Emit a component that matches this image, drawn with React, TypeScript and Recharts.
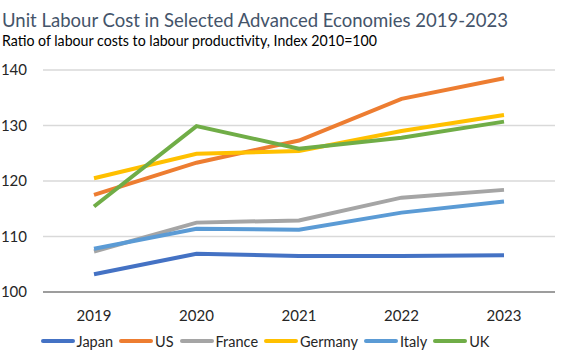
import React from "react";
import {
  LineChart,
  Line,
  XAxis,
  YAxis,
  CartesianGrid,
  Legend,
} from "recharts";

// values
const years = ["2019", "2020", "2021", "2022", "2023"];
const japan = [103.2, 106.9, 106.5, 106.5, 106.6];
const us = [117.5, 123.3, 127.3, 134.8, 138.5];
const france = [107.3, 112.5, 112.9, 117.0, 118.4];
const germany = [120.5, 124.9, 125.4, 129.0, 131.9];
const italy = [107.8, 111.4, 111.2, 114.3, 116.3];
const uk = [115.4, 129.9, 125.8, 127.8, 130.7];
const yTicks = [100, 110, 120, 130, 140];

const series = [
  { key: "Japan", values: japan, color: "#4472C4" },
  { key: "US", values: us, color: "#ED7D31" },
  { key: "France", values: france, color: "#A5A5A5" },
  { key: "Germany", values: germany, color: "#FFC000" },
  { key: "Italy", values: italy, color: "#5B9BD5" },
  { key: "UK", values: uk, color: "#70AD47" },
];

const data = years.map((year, i) => {
  const row: Record<string, string | number> = { year };
  series.forEach((s) => {
    row[s.key] = s.values[i];
  });
  return row;
});

const FONT = "Lato, 'Noto Sans', sans-serif";

const LegendContent = () => (
  <div
    style={{
      display: "flex",
      justifyContent: "center",
      alignItems: "center",
      fontFamily: FONT,
      fontSize: 14.5,
      color: "#262626",
      height: 20,
    }}
  >
    {series.map((s, i) => (
      <div
        key={s.key}
        style={{
          display: "flex",
          alignItems: "center",
          marginRight: i === series.length - 1 ? 0 : 6,
        }}
      >
        <span
          style={{
            display: "inline-block",
            width: 34,
            height: 4,
            borderRadius: 2,
            background: s.color,
            marginRight: 2,
          }}
        />
        <span>{s.key}</span>
      </div>
    ))}
  </div>
);

const App = () => {
  return (
    <div
      style={{
        position: "absolute",
        left: 0,
        top: 0,
        width: 570,
        height: 357,
        background: "#fff",
      }}
    >
      <LineChart
        width={570}
        height={357}
        data={data}
        margin={{ top: 70, right: 15, left: 0, bottom: 0 }}
      >
        <CartesianGrid vertical={false} stroke="#D9D9D9" strokeWidth={1.5} />
        <XAxis
          dataKey="year"
          height={45}
          padding={{ left: 51, right: 51 }}
          tickLine={false}
          axisLine={{ stroke: "#868686", strokeWidth: 1.5 }}
          tickMargin={12}
          tick={{ fill: "#262626", fontSize: 15, fontFamily: FONT }}
        />
        <YAxis
          width={43}
          domain={[100, 140]}
          ticks={yTicks}
          tickLine={false}
          axisLine={false}
          tickMargin={10}
          tick={{ fill: "#262626", fontSize: 15, fontFamily: FONT }}
        />
        <Legend
          content={<LegendContent />}
          wrapperStyle={{ top: 331, left: 0, width: 530, height: 20 }}
        />
        {series.map((s) => (
          <Line
            key={s.key}
            dataKey={s.key}
            stroke={s.color}
            strokeWidth={4}
            dot={false}
            type="linear"
            isAnimationActive={false}
          />
        ))}
      </LineChart>
      <svg
        width={570}
        height={60}
        style={{ position: "absolute", left: 0, top: 0, pointerEvents: "none" }}
      >
        <text
          x={2}
          y={27}
          fontFamily={FONT}
          fontSize={20}
          fill="#44546A"
          textLength={506}
          lengthAdjust="spacingAndGlyphs"
        >
          Unit Labour Cost in Selected Advanced Economies 2019-2023
        </text>
        <text
          x={2}
          y={46}
          fontFamily={FONT}
          fontSize={15}
          fill="#000"
          textLength={375}
          lengthAdjust="spacingAndGlyphs"
        >
          Ratio of labour costs to labour productivity, Index 2010=100
        </text>
      </svg>
    </div>
  );
};

export default App;
